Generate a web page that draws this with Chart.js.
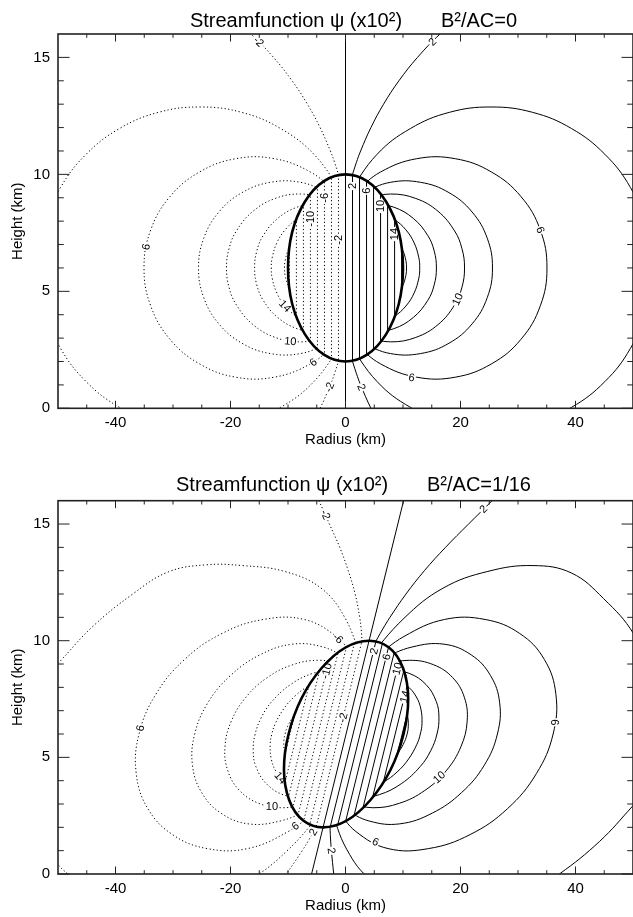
<!DOCTYPE html>
<html>
<head>
<meta charset="utf-8">
<script src="https://cdn.jsdelivr.net/npm/chart.js@4.4.1/dist/chart.umd.min.js"></script>
<style>
  html, body { margin: 0; padding: 0; background: #fff; }
  canvas { display: block; }
</style>
</head>
<body>
<canvas id="chartA" width="633" height="458"></canvas>
<canvas id="chartB" width="633" height="459"></canvas>
<script>
// ticks
const xTicks = [-40, -20, 0, 20, 40];
const xMinor = [-45, -35, -30, -25, -15, -10, -5, 5, 10, 15, 25, 30, 35, 45];
const yTicks = [0, 5, 10, 15];
const yMinor = [1, 2, 3, 4, 6, 7, 8, 9, 11, 12, 13, 14];

// heated ellipse: centre x, centre z, half width, half height, tilt (km of x per km of z)
const ellipseA = [0, 6, 10, 4, 0];
const ellipseB = [0.1, 6, 10, 4, 1.0];

// contour lines inside the ellipse, x where they cross z = 6 km
const innerPos = [1.22, 2.44, 3.66, 4.88, 6.1, 7.32, 8.54, 9.76];
const innerNeg = [-1.22, -2.44, -3.66, -4.88, -6.1, -7.32, -8.54, -9.76];

// psi = 0 line
const zeroA = [[0, 0], [0, 16]];
const zeroB = [[-5.9, 0], [10.1, 16]];

// ---- B2/AC = 0, positive contours (solid)
const aP2u = [[0.97,9.8],[1.88,10.5],[2.63,11],[4.42,12],[6.62,13],[9.29,14],[12.52,15],[16.45,16],[21.33,17]];
const aP2l = [[0.97,2.2],[1.88,1.5],[2.63,1],[4.42,0],[6.62,-1]];
const aP4 = [[0.35,9.12],[5.5,10.86],[11.3,11.96],[18.05,12.65],[25.3,12.88],[32.55,12.65],[39.3,11.96],[45.1,10.86],[49.55,9.44],[52.35,7.78],[53.3,6],[52.35,4.22],[49.55,2.56],[45.1,1.14],[39.3,0.04],[32.55,-0.65],[25.3,-0.88],[18.05,-0.65],[11.3,0.04],[5.5,1.14],[0.35,2.88]];
const aP6 = [[1.63,9.23],[6.09,10.1],[12.39,10.67],[19.09,10.67],[25.39,10.1],[30.52,9.05],[33.88,7.62],[35.04,6],[33.88,4.38],[30.52,2.95],[25.39,1.9],[19.09,1.33],[12.39,1.33],[6.09,1.9],[1.63,2.77]];
const aP8 = [[2.86,9.22],[7.8,9.66],[13.06,9.66],[17.99,9.22],[22.02,8.39],[24.65,7.27],[25.56,6],[24.65,4.73],[22.02,3.61],[17.99,2.78],[13.06,2.34],[7.8,2.34],[2.86,2.78]];
const aP10 = [[3.43,8.97],[7.83,9.16],[12.23,8.97],[16.1,8.42],[18.98,7.58],[20.26,6.82],[20.7,6],[20.26,5.18],[18.98,4.42],[16.1,3.58],[12.23,3.03],[7.83,2.84],[3.43,3.03]];
const aP12 = [[4.52,8.77],[8.38,8.6],[11.78,8.12],[14.3,7.39],[15.43,6.72],[15.81,6],[15.43,5.28],[14.3,4.61],[11.78,3.88],[8.38,3.4],[4.52,3.23]];
const aP14 = [[6.13,8.38],[8.52,8.07],[10.5,7.63],[11.94,7.07],[12.75,6.44],[12.91,6],[12.75,5.56],[11.94,4.93],[10.5,4.37],[8.52,3.93],[6.13,3.62]];
const aP16 = [[8.85,7.19],[9.91,6.78],[10.5,6.32],[10.61,6],[10.5,5.68],[9.91,5.22],[8.85,4.81]];

// ---- B2/AC = 0, negative contours (dotted)
const aN2u = [[-0.97,9.8],[-1.88,10.5],[-2.63,11],[-4.42,12],[-6.62,13],[-9.29,14],[-12.52,15],[-16.45,16],[-21.33,17]];
const aN2l = [[-0.97,2.2],[-1.88,1.5],[-2.63,1],[-4.42,0],[-6.62,-1]];
const aN4 = [[-0.35,9.12],[-5.5,10.86],[-11.3,11.96],[-18.05,12.65],[-25.3,12.88],[-32.55,12.65],[-39.3,11.96],[-45.1,10.86],[-49.55,9.44],[-52.35,7.78],[-53.3,6],[-52.35,4.22],[-49.55,2.56],[-45.1,1.14],[-39.3,0.04],[-32.55,-0.65],[-25.3,-0.88],[-18.05,-0.65],[-11.3,0.04],[-5.5,1.14],[-0.35,2.88]];
const aN6 = [[-1.63,9.23],[-6.09,10.1],[-12.39,10.67],[-19.09,10.67],[-25.39,10.1],[-30.52,9.05],[-33.88,7.62],[-35.04,6],[-33.88,4.38],[-30.52,2.95],[-25.39,1.9],[-19.09,1.33],[-12.39,1.33],[-6.09,1.9],[-1.63,2.77]];
const aN8 = [[-2.86,9.22],[-7.8,9.66],[-13.06,9.66],[-17.99,9.22],[-22.02,8.39],[-24.65,7.27],[-25.56,6],[-24.65,4.73],[-22.02,3.61],[-17.99,2.78],[-13.06,2.34],[-7.8,2.34],[-2.86,2.78]];
const aN10 = [[-3.43,8.97],[-7.83,9.16],[-12.23,8.97],[-16.1,8.42],[-18.98,7.58],[-20.26,6.82],[-20.7,6],[-20.26,5.18],[-18.98,4.42],[-16.1,3.58],[-12.23,3.03],[-7.83,2.84],[-3.43,3.03]];
const aN12 = [[-4.52,8.77],[-8.38,8.6],[-11.78,8.12],[-14.3,7.39],[-15.43,6.72],[-15.81,6],[-15.43,5.28],[-14.3,4.61],[-11.78,3.88],[-8.38,3.4],[-4.52,3.23]];
const aN14 = [[-6.13,8.38],[-8.52,8.07],[-10.5,7.63],[-11.94,7.07],[-12.75,6.44],[-12.91,6],[-12.75,5.56],[-11.94,4.93],[-10.5,4.37],[-8.52,3.93],[-6.13,3.62]];
const aN16 = [[-8.85,7.19],[-9.91,6.78],[-10.5,6.32],[-10.61,6],[-10.5,5.68],[-9.91,5.22],[-8.85,4.81]];

// labels: x, z, text, angle (deg)
const aLabels = [
  [1.22,9.5,'2',-90],[3.66,9.3,'6',-90],[6.1,8.65,'10',-90],[8.54,7.45,'14',-90],
  [-1.22,7.2,'-2',-90],[-3.66,9.0,'-6',-90],[-6.1,8.1,'-10',-90],
  [15.1,15.67,'2',-45],[2.79,0.9,'2',68],[33.88,7.62,'6',70],[19.49,4.66,'10',-65],[11.5,1.31,'6',10],
  [-15.1,15.67,'-2',45],[-2.79,0.9,'-2',-68],[-34.69,6.9,'6',-80],[-10.5,4.37,'14',47],[-9.6,2.87,'10',5],[-5.6,1.97,'6',-38]
];

// ---- B2/AC = 1/16, positive contours (solid)
const bP2u = [[4.87,9.8],[6.48,10.5],[7.73,11],[10.52,12],[13.72,13],[17.39,14],[21.4,15],[25.5,16],[29.5,17]];
const bP2l = [[-2.73,2.2],[-2.6,1.5],[-2.45,1],[-2.05,0],[-1.6,-1]];
const bP4 = [[3.57,9.12],[10.17,10.96],[16.95,12.25],[24.76,12.97],[32.62,13.22],[39.3,12.9],[44.9,11.8],[50.1,10.3],[53.8,8.3],[55.6,6.2],[55.0,4.4],[52.6,3.65],[49.9,2.9],[44.2,1.4],[37.2,0],[31,-0.95],[24.5,-1.25],[18.18,-1.22],[10.82,-0.97],[4.45,-0.25],[0.25,1.04],[-2.67,2.88]];
const bP6 = [[4.96,9.23],[10.17,10.18],[17.22,10.91],[24.28,10.91],[30.29,10.31],[34.57,9.2],[36.59,7.7],[36.11,6],[33.19,4.3],[28.17,2.8],[21.67,1.69],[14.46,1.09],[7.4,1.09],[1.81,1.82],[-1.5,2.77]];
const bP8 = [[6.18,9.22],[11.58,9.73],[17.14,9.85],[21.87,9.39],[25.21,8.51],[26.81,7.34],[26.42,6],[24.13,4.66],[20.19,3.49],[15.09,2.61],[9.44,2.15],[4.12,2.27],[-0.26,2.78]];
const bP10 = [[6.5,8.97],[11.09,9.16],[15.3,8.97],[18.63,8.42],[20.66,7.58],[21.16,6.55],[20.06,5.45],[17.5,4.42],[13.79,3.58],[9.36,3.03],[4.77,2.84],[0.56,3.03]];
const bP12 = [[7.39,8.77],[11.08,8.6],[14,8.12],[15.79,7.39],[16.25,6.72],[15.91,6],[14.81,5.28],[13.01,4.61],[9.76,3.88],[5.88,3.4],[1.85,3.23]];
const bP14 = [[8.61,8.38],[10.69,8.07],[12.23,7.63],[13.11,7.07],[13.3,6.44],[13.01,6],[12.42,5.56],[10.97,4.93],[8.97,4.37],[6.55,3.93],[3.85,3.62]];
const bP16 = [[10.14,7.19],[10.78,6.78],[10.92,6.32],[10.71,6],[10.28,5.68],[9.22,5.22],[7.76,4.81]];

// ---- B2/AC = 1/16, negative contours (dotted)
const bN2u = [[2.93,9.8],[2.72,10.5],[2.47,11],[1.68,12],[0.48,13],[-1.0,14],[-2.8,15],[-4.6,16],[-5.6,16.6]];
const bN2l = [[-4.67,2.2],[-6.28,1.5],[-7.53,1],[-10.32,0],[-13.52,-1]];
const bN4 = [[-3.37,2.88],[-9.97,1.04],[-16.75,-0.25],[-24.56,-0.97],[-32.42,-1.22],[-39.1,-1.1],[-45,-0.45],[-50.3,0.5],[-54.2,2.6],[-55.8,5.2],[-55.0,7.1],[-52.6,8.35],[-49.7,9.1],[-44,10.6],[-37,12],[-30.8,12.95],[-24.3,13.25],[-17.98,13.22],[-10.62,12.97],[-4.25,12.25],[-0.05,10.96],[2.87,9.12]];
const bN6 = [[-4.76,2.77],[-9.97,1.82],[-17.02,1.09],[-24.08,1.09],[-30.09,1.69],[-34.37,2.8],[-36.39,4.3],[-35.91,6],[-32.99,7.7],[-27.97,9.2],[-21.47,10.31],[-14.26,10.91],[-7.2,10.91],[-1.61,10.18],[1.7,9.23]];
const bN8 = [[-5.98,2.78],[-11.38,2.27],[-16.94,2.15],[-21.67,2.61],[-25.01,3.49],[-26.61,4.66],[-26.22,6],[-23.93,7.34],[-19.99,8.51],[-14.89,9.39],[-9.24,9.85],[-3.92,9.73],[0.46,9.22]];
const bN10 = [[-6.3,3.03],[-10.89,2.84],[-15.1,3.03],[-18.43,3.58],[-20.46,4.42],[-20.96,5.45],[-19.86,6.55],[-17.3,7.58],[-13.59,8.42],[-9.16,8.97],[-4.57,9.16],[-0.36,8.97]];
const bN12 = [[-7.19,3.23],[-10.88,3.4],[-13.8,3.88],[-15.59,4.61],[-16.05,5.28],[-15.71,6],[-14.61,6.72],[-12.81,7.39],[-9.56,8.12],[-5.68,8.6],[-1.65,8.77]];
const bN14 = [[-8.41,3.62],[-10.49,3.93],[-12.03,4.37],[-12.91,4.93],[-13.1,5.56],[-12.81,6],[-12.22,6.44],[-10.77,7.07],[-8.77,7.63],[-6.35,8.07],[-3.65,8.38]];
const bN16 = [[-9.94,4.81],[-10.58,5.22],[-10.72,5.68],[-10.51,6],[-10.08,6.32],[-9.02,6.78],[-7.56,7.19]];

const bLabels = [
  [4.97,9.55,'2',-76],[7.16,9.3,'6',-76],[9.0,8.8,'10',-76],[10.3,7.6,'14',-76],
  [-0.42,6.7,'-2',-76],[-3.3,8.7,'-10',-76],
  [24.0,15.64,'2',-45],[-3.5,15.4,'-2',66],[-1.3,10.1,'-6',45],
  [36.3,6.5,'6',90],[16.3,4.15,'10',-42],[5.2,1.38,'6',25],[-2.45,1.0,'2',82],
  [-35.7,6.25,'6',-80],[-11.3,4.12,'14',49],[-12.8,2.9,'10',0],[-8.7,2.05,'6',-36],[-5.6,1.8,'2',-60]
];

const FONT = "'Liberation Sans', Arial, Helvetica, sans-serif";

function lineSet(points, dotted, role, tension) {
  return {
    data: points.map(p => ({ x: p[0], y: p[1] })),
    showLine: true,
    pointRadius: 0,
    borderColor: '#000',
    borderWidth: 1,
    borderDash: dotted ? [1.2, 2.4] : [],
    tension: tension,
    role: role
  };
}

// a straight inner line through (cx + d, cz), tilted like the ellipse
function innerLine(e, d) {
  const x = e[0] + d;
  return [[x - 5 * e[4], e[1] - 5], [x + 5 * e[4], e[1] + 5]];
}

function ellipsePath(chart, e) {
  const xs = chart.scales.x, ys = chart.scales.y, ctx = chart.ctx;
  const kx = xs.getPixelForValue(1) - xs.getPixelForValue(0);
  const ky = ys.getPixelForValue(0) - ys.getPixelForValue(1);
  ctx.save();
  ctx.transform(kx * e[2], 0, kx * e[4] * e[3], -ky * e[3], xs.getPixelForValue(e[0]), ys.getPixelForValue(e[1]));
  ctx.moveTo(1, 0);
  ctx.arc(0, 0, 1, 0, Math.PI * 2);
  ctx.restore();
}

function makePanel(id, p) {
  const datasets = [];
  innerPos.forEach(d => datasets.push(lineSet(innerLine(p.ellipse, d), false, 'in', 0)));
  innerNeg.forEach(d => datasets.push(lineSet(innerLine(p.ellipse, d), true, 'in', 0)));
  p.pos.forEach(c => datasets.push(lineSet(c, false, 'out', 0.4)));
  p.neg.forEach(c => datasets.push(lineSet(c, true, 'out', 0.4)));
  datasets.push(lineSet(p.zero, false, 'none', 0));

  const plugin = {
    id: 'contourBits',
    beforeDatasetDraw(chart, args) {
      const ds = chart.data.datasets[args.index];
      const ctx = chart.ctx, a = chart.chartArea;
      ctx.save();
      if (ds.role === 'in' || ds.role === 'out') {
        ctx.beginPath();
        if (ds.role === 'out') ctx.rect(a.left, a.top, a.width, a.height);
        ellipsePath(chart, p.ellipse);
        ctx.clip('evenodd');
      }
    },
    afterDatasetDraw(chart) {
      chart.ctx.restore();
    },
    afterDatasetsDraw(chart) {
      const ctx = chart.ctx, xs = chart.scales.x, ys = chart.scales.y, a = chart.chartArea;
      ctx.save();
      ctx.beginPath();
      ctx.rect(a.left, a.top, a.width, a.height);
      ctx.clip();
      ctx.font = '11px ' + FONT;
      ctx.textAlign = 'center';
      ctx.textBaseline = 'middle';
      p.labels.forEach(l => {
        const w = ctx.measureText(l[2]).width;
        ctx.save();
        ctx.translate(xs.getPixelForValue(l[0]), ys.getPixelForValue(l[1]));
        ctx.rotate(l[3] * Math.PI / 180);
        ctx.fillStyle = '#fff';
        ctx.fillRect(-w / 2 - 1, -3.5, w + 2, 7);
        ctx.fillStyle = '#000';
        ctx.fillText(l[2], 0, 0.5);
        ctx.restore();
      });
      ctx.beginPath();
      ellipsePath(chart, p.ellipse);
      ctx.lineWidth = 2.6;
      ctx.strokeStyle = '#000';
      ctx.stroke();
      ctx.restore();
    },
    afterDraw(chart) {
      const ctx = chart.ctx, xs = chart.scales.x, ys = chart.scales.y, a = chart.chartArea;
      ctx.save();
      ctx.strokeStyle = '#222';
      ctx.lineWidth = 1;
      ctx.beginPath();
      const tx = (v, len) => {
        const px = xs.getPixelForValue(v);
        ctx.moveTo(px, a.bottom); ctx.lineTo(px, a.bottom - len);
        ctx.moveTo(px, a.top); ctx.lineTo(px, a.top + len);
      };
      const ty = (v, len) => {
        const py = ys.getPixelForValue(v);
        ctx.moveTo(a.left, py); ctx.lineTo(a.left + len, py);
        ctx.moveTo(a.right, py); ctx.lineTo(a.right - len, py);
      };
      xTicks.forEach(v => tx(v, 7.5));
      xMinor.forEach(v => tx(v, 3.8));
      yTicks.forEach(v => ty(v, 11.5));
      yMinor.forEach(v => ty(v, 5.8));
      ctx.stroke();
      ctx.lineWidth = 1.6;
      ctx.strokeRect(a.left, a.top, a.width, a.height);
      // title
      ctx.fillStyle = '#000';
      ctx.font = '20px ' + FONT;
      ctx.textAlign = 'center';
      ctx.textBaseline = 'alphabetic';
      ctx.fillText(p.title, (a.left + a.right) / 2 + 8, p.titleY);
      ctx.restore();
    }
  };

  const tickFont = { family: FONT, size: 15 };
  return new Chart(document.getElementById(id), {
    type: 'scatter',
    data: { datasets: datasets },
    options: {
      responsive: false,
      animation: false,
      devicePixelRatio: 1,
      events: [],
      layout: { padding: { top: p.top, right: 0, bottom: 0, left: 0 } },
      plugins: { legend: { display: false }, tooltip: { enabled: false }, title: { display: false } },
      scales: {
        x: {
          type: 'linear', min: -50, max: 50,
          afterBuildTicks: s => { s.ticks = xTicks.map(v => ({ value: v })); },
          afterFit: s => { s.height = p.xh; },
          grid: { display: false, drawTicks: false },
          border: { display: false },
          ticks: { color: '#000', font: tickFont, padding: 6, maxRotation: 0, autoSkip: false },
          title: { display: true, text: 'Radius (km)', color: '#000', font: tickFont, padding: { top: 0, bottom: p.xtPad } }
        },
        y: {
          type: 'linear', min: 0, max: 16,
          afterBuildTicks: s => { s.ticks = yTicks.map(v => ({ value: v })); },
          afterFit: s => { s.width = 58; },
          grid: { display: false, drawTicks: false },
          border: { display: false },
          ticks: { color: '#000', font: tickFont, padding: 8, autoSkip: false },
          title: { display: true, text: 'Height (km)', color: '#000', font: tickFont, padding: { top: 9, bottom: 0 } }
        }
      }
    },
    plugins: [plugin]
  });
}

makePanel('chartA', {
  title: 'Streamfunction \u03C8 (x10\u00B2)       B\u00B2/AC=0',
  titleY: 27, top: 34, xh: 49.7, xtPad: 9,
  ellipse: ellipseA, zero: zeroA,
  pos: [aP2u, aP2l, aP4, aP6, aP8, aP10, aP12, aP14, aP16],
  neg: [aN2u, aN2l, aN4, aN6, aN8, aN10, aN12, aN14, aN16],
  labels: aLabels
});

makePanel('chartB', {
  title: 'Streamfunction \u03C8 (x10\u00B2)       B\u00B2/AC=1/16',
  titleY: 33, top: 42.7, xh: 43, xtPad: 2,
  ellipse: ellipseB, zero: zeroB,
  pos: [bP2u, bP2l, bP4, bP6, bP8, bP10, bP12, bP14, bP16],
  neg: [bN2u, bN2l, bN4, bN6, bN8, bN10, bN12, bN14, bN16],
  labels: bLabels
});
</script>
</body>
</html>
